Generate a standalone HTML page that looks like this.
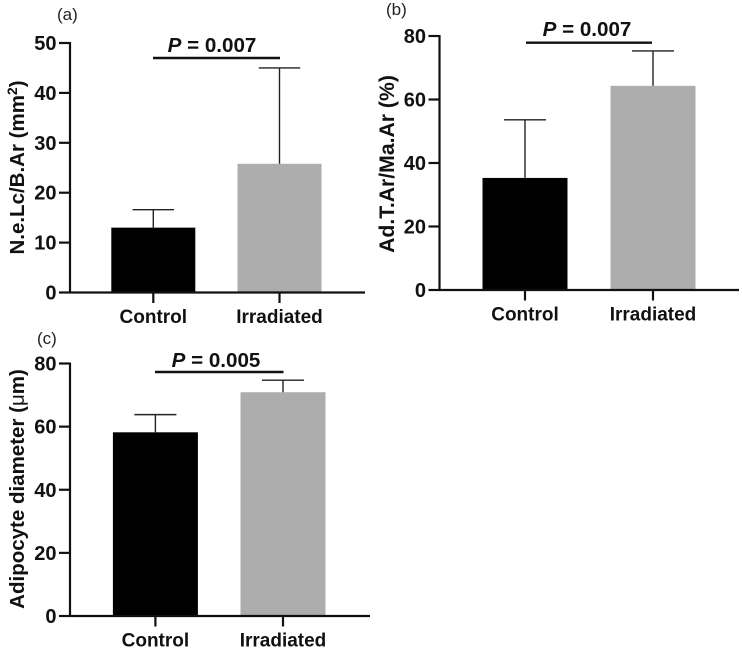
<!DOCTYPE html>
<html lang="en">
<head>
<meta charset="utf-8">
<title>Bone marrow adipocyte charts</title>
<style>
html,body{margin:0;padding:0;background:#fff;width:742px;height:650px;overflow:hidden}
svg{display:block;font-family:"Liberation Sans",Arial,sans-serif}
.tick{font-size:20px;font-weight:700;fill:#111}
.cat{font-size:19px;font-weight:700;fill:#111}
.ttl{font-size:20.5px;font-weight:700;fill:#111}
.pv{font-size:20.6px;font-weight:700;fill:#111}
.pl{font-size:17px;fill:#222}
</style>
</head>
<body>
<svg id="figure" width="742" height="650" viewBox="0 0 742 650" xmlns="http://www.w3.org/2000/svg">
  <text class="pl" x="57" y="20">(a)</text>
  <text class="pl" x="386" y="15">(b)</text>
  <text class="pl" x="37" y="344">(c)</text>

  <text class="ttl" transform="translate(24,167.5) rotate(-90)" text-anchor="middle">N.e.Lc/B.Ar (mm<tspan dy="-7" font-size="14">2</tspan><tspan dy="7">)</tspan></text>
  <text class="ttl" transform="translate(394,164) rotate(-90)" text-anchor="middle" style="font-size:21.2px">Ad.T.Ar/Ma.Ar (%)</text>
  <text class="ttl" transform="translate(24,489) rotate(-90)" text-anchor="middle">Adipocyte diameter (<tspan font-weight="400">μ</tspan>m)</text>

  <text class="pv" x="212" y="52" text-anchor="middle"><tspan font-style="italic">P</tspan> = 0.007</text>
  <text class="pv" x="587" y="36" text-anchor="middle"><tspan font-style="italic">P</tspan> = 0.007</text>
  <text class="pv" x="216" y="367" text-anchor="middle"><tspan font-style="italic">P</tspan> = 0.005</text>

  <line x1="153" x2="280" y1="58" y2="58" stroke="#111" stroke-width="2.4"/>
  <line x1="526" x2="652" y1="42.7" y2="42.7" stroke="#111" stroke-width="2.4"/>
  <line x1="155" x2="283.5" y1="372" y2="372" stroke="#111" stroke-width="2.4"/>
</svg>
<script>
const categories = ["Control", "Irradiated"];
const barFills = ["#000000", "#adadad"];

const panelATicks = [0, 10, 20, 30, 40, 50];
const panelAMeans = [13, 25.8];
const panelAErrorTops = [16.6, 45];

const panelBTicks = [0, 20, 40, 60, 80];
const panelBMeans = [35.3, 64.3];
const panelBErrorTops = [53.6, 75.3];

const panelCTicks = [0, 20, 40, 60, 80];
const panelCMeans = [58.2, 70.9];
const panelCErrorTops = [63.8, 74.7];

const svg = document.getElementById('figure');
const NS = 'http://www.w3.org/2000/svg';

function make(tag, attrs, parent) {
  const el = document.createElementNS(NS, tag);
  for (const k in attrs) el.setAttribute(k, attrs[k]);
  parent.appendChild(el);
  return el;
}

function drawPanel(id, ticks, means, tops, g) {
  const maxV = ticks[ticks.length - 1];
  const y = v => g.y0 + (g.yMax - g.y0) * (v / maxV);
  const x = i => g.cx0 + (g.cx1 - g.cx0) * i;

  const panel = make('g', {}, svg);
  
  

  means.forEach((m, i) => {
    const bar = make('rect', {
      x: x(i) - g.barW / 2, y: y(m), width: g.barW, height: g.y0 - y(m), fill: barFills[i]
    }, panel);
    
    

    const stem = make('line', {
      x1: x(i), x2: x(i), y1: y(m), y2: y(tops[i]), stroke: '#222', 'stroke-width': 1.4
    }, panel);
    
    

    const cap = make('line', {
      x1: x(i) - g.capW / 2, x2: x(i) + g.capW / 2, y1: y(tops[i]), y2: y(tops[i]), stroke: '#222', 'stroke-width': 1.4
    }, panel);
    
    

    const xTick = make('line', {
      x1: x(i), x2: x(i), y1: g.y0, y2: g.y0 + 10.5, stroke: '#111', 'stroke-width': 2.2
    }, panel);
    
    

    const label = make('text', {
      class: 'cat', x: x(i), y: g.y0 + 30.5, 'text-anchor': 'middle'
    }, panel);
    
    
    label.textContent = categories[i];
  });

  ticks.forEach(t => {
    const mark = make('line', {
      x1: g.axisX - 11, x2: g.axisX, y1: y(t), y2: y(t), stroke: '#111', 'stroke-width': 2.2
    }, panel);
    
    

    const label = make('text', {
      class: 'tick', x: g.axisX - 13.5, y: y(t) + 7, 'text-anchor': 'end'
    }, panel);
    
    
    label.textContent = t;
  });

  const yAxis = make('line', {
    x1: g.axisX, x2: g.axisX, y1: g.yMax - 1, y2: g.y0 + 1, stroke: '#111', 'stroke-width': 2.2
  }, panel);
  
  

  const xAxis = make('line', {
    x1: g.axisX, x2: g.axisEnd, y1: g.y0, y2: g.y0, stroke: '#111', 'stroke-width': 2.2
  }, panel);
  
  
}

drawPanel('panel-a', panelATicks, panelAMeans, panelAErrorTops,
  {axisX: 70, axisEnd: 365, y0: 292.5, yMax: 43, cx0: 153.3, cx1: 279.5, barW: 84, capW: 41.5});
drawPanel('panel-b', panelBTicks, panelBMeans, panelBErrorTops,
  {axisX: 439.5, axisEnd: 739, y0: 290, yMax: 36, cx0: 525, cx1: 653, barW: 85, capW: 42});
drawPanel('panel-c', panelCTicks, panelCMeans, panelCErrorTops,
  {axisX: 70, axisEnd: 370, y0: 616, yMax: 363.5, cx0: 155.4, cx1: 283, barW: 85, capW: 42});
</script>
</body>
</html>
